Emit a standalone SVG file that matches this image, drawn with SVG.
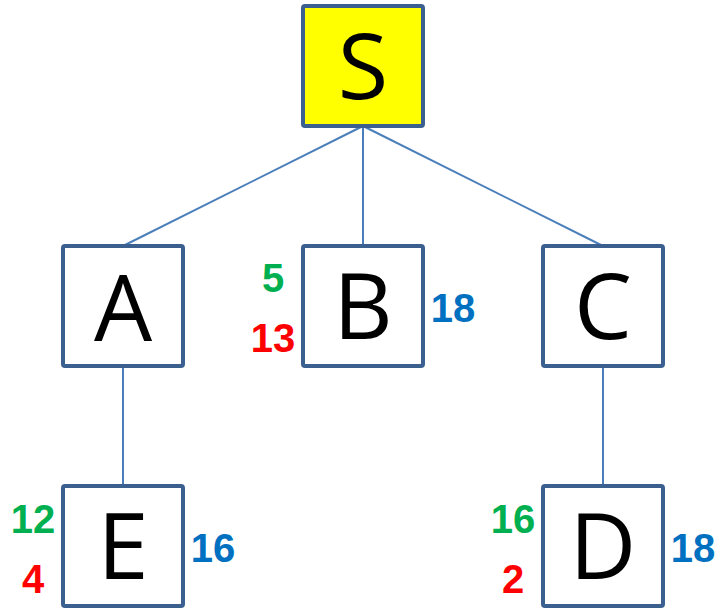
<svg xmlns="http://www.w3.org/2000/svg" width="719" height="609" viewBox="0 0 719 609">
<style>
.box{fill:#fff;stroke:#3B5F8E;stroke-width:4}
.lbl{font-family:"Open Sans","Liberation Sans",sans-serif;font-size:92px;fill:#000;text-anchor:middle}
.num{font-family:"Liberation Sans",Arial,sans-serif;font-weight:bold;font-size:40px;text-anchor:middle}
.g{fill:#00B050}.r{fill:#FF0000}.b{fill:#0070C0}
.edge{stroke:#4A7EBB;stroke-width:2;fill:none}
</style>
<rect width="719" height="609" fill="#fff"/>
<g id="connectors">
<line class="edge" x1="363" y1="126" x2="123" y2="246"/>
<line class="edge" x1="363" y1="126" x2="363" y2="246"/>
<line class="edge" x1="363" y1="126" x2="603" y2="246"/>
<line class="edge" x1="123" y1="366" x2="123" y2="486"/>
<line class="edge" x1="603" y1="366" x2="603" y2="486"/>
</g>
<g id="S"><rect class="box" x="303" y="6" width="120" height="120" rx="2" style="fill:#FFFF00"/><text class="lbl" x="363" y="99">S</text></g>
<g id="A"><rect class="box" x="63" y="246" width="120" height="120" rx="2"/><text class="lbl" x="123" y="341">A</text></g>
<g id="B"><rect class="box" x="303" y="246" width="120" height="120" rx="2"/><text class="lbl" x="363" y="339">B</text>
<text class="num g" x="273" y="292">5</text><text class="num r" x="273" y="352">13</text><text class="num b" x="453" y="322">18</text></g>
<g id="C"><rect class="box" x="543" y="246" width="120" height="120" rx="2"/><text class="lbl" x="603" y="339">C</text></g>
<g id="E"><rect class="box" x="63" y="486" width="120" height="120" rx="2"/><text class="lbl" x="123" y="579">E</text>
<text class="num g" x="33" y="533">12</text><text class="num r" x="33" y="593">4</text><text class="num b" x="213" y="562">16</text></g>
<g id="D"><rect class="box" x="543" y="486" width="120" height="120" rx="2"/><text class="lbl" x="603" y="579">D</text>
<text class="num g" x="513" y="533">16</text><text class="num r" x="513" y="593">2</text><text class="num b" x="693" y="562">18</text></g>
</svg>
